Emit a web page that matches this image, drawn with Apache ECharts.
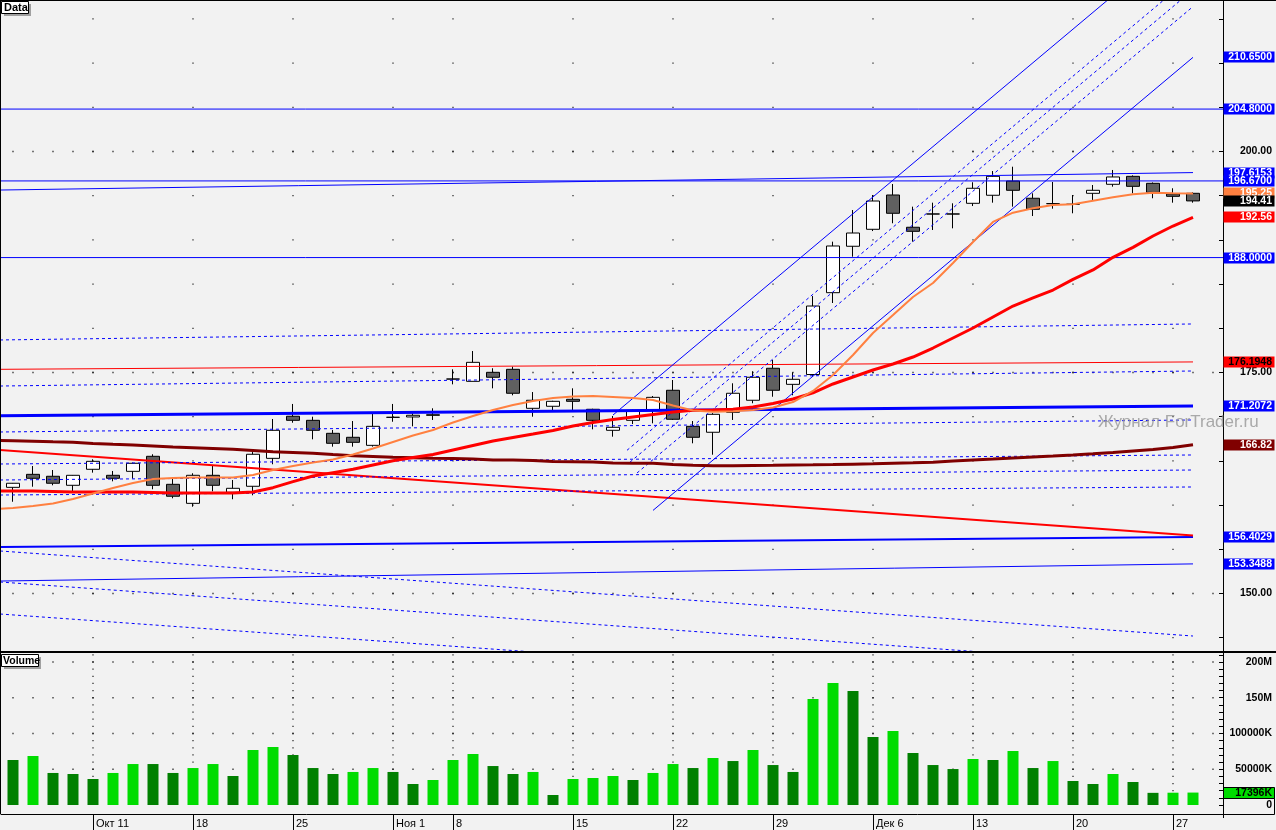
<!DOCTYPE html>
<html>
<head>
<meta charset="utf-8">
<script src="https://cdn.jsdelivr.net/npm/echarts@6.0.0/dist/echarts.min.js"></script>
<style>
html,body{margin:0;padding:0;background:#f2f2f2;overflow:hidden;}
#chart{width:1276px;height:830px;}
</style>
</head>
<body>
<div id="chart"></div>
<script>
// ---------------- data ----------------
const dateIndex  = [4, 9, 14, 19, 22, 28, 33, 38, 43, 48, 53, 58];
const dateLabels = ['Окт 11','18','25','Ноя 1','8','15','22','29','Дек 6','13','20','27'];

const opens = [162.01,163.48,163.26,162.24,164.05,163.37,163.82,165.52,162.35,160.20,
163.37,161.45,162.13,165.29,170.05,169.59,168.12,167.67,166.76,169.93,
169.97,170.22,174.26,174.00,175.02,175.36,170.95,171.18,171.97,170.84,
168.46,169.59,170.72,172.99,168.91,168.24,170.50,171.86,175.48,173.66,
174.77,184.03,189.28,191.20,195.08,191.43,192.93,192.93,194.14,195.05,
196.66,194.71,194.10,194.03,195.27,196.29,197.19,196.40,195.19,195.27];
const closes = [162.47,163.03,162.47,163.37,164.95,163.03,164.73,162.24,161.00,163.37,
162.24,161.90,165.75,168.46,169.59,168.46,166.99,167.10,168.91,169.93,
170.16,170.16,174.26,176.15,174.46,172.65,171.86,171.74,171.74,169.59,
168.80,170.72,172.19,169.71,167.67,170.27,172.65,174.46,172.99,174.23,
182.52,189.31,190.78,194.40,193.01,190.97,192.93,192.93,195.84,197.19,
195.61,193.46,194.10,194.03,195.61,197.12,196.06,195.38,194.93,194.41];
const lows = [160.38,162.08,162.24,161.40,163.67,162.69,162.99,161.79,160.77,159.82,
161.56,160.66,161.11,164.62,169.32,167.44,166.61,166.61,166.61,169.43,
168.91,169.63,173.66,174.00,173.21,172.42,170.00,170.68,170.76,168.57,
167.74,169.17,169.25,169.63,166.99,165.70,169.63,171.52,172.26,172.42,
174.50,182.86,188.10,191.00,191.88,189.80,191.12,191.31,193.83,194.21,
193.76,192.70,193.53,193.01,194.51,196.02,195.27,194.71,194.21,194.21];
const highs = [162.50,164.42,163.97,163.40,165.18,163.86,164.80,165.75,163.14,163.60,
164.54,162.84,166.00,169.74,171.44,170.00,168.50,169.51,170.38,171.44,
170.38,170.95,175.36,177.43,175.48,175.66,172.79,171.80,173.21,170.90,
170.08,170.80,172.34,174.15,169.51,170.40,173.78,175.14,176.41,175.02,
183.65,189.80,193.38,195.08,196.32,193.76,194.21,194.14,196.52,197.79,
198.28,195.27,196.55,195.08,196.21,197.91,197.30,196.50,195.84,195.38];

// volumes in thousands
const volumes = [62900,68500,44800,43400,36400,44800,57300,57300,44800,51700,
57300,40600,76900,81100,69900,51700,43400,46200,51700,46200,
29400,35000,62900,71300,54500,43400,46200,14000,36400,37800,
40600,35000,44800,57300,51700,65700,61500,76900,55900,46200,
148300,170600,159400,95100,103500,72700,55900,50300,64300,62900,
75500,51700,61500,33600,29400,43400,32200,17000,17200,17396];
const volUp = [0,1,0,0,0,1,1,0,0,1, 1,0,1,1,0,0,0,1,1,0, 0,1,1,1,0,0,1,0,1,1,
               1,0,1,1,0,1,0,1,0,0, 1,1,0,0,1,0,0,0,1,0, 1,0,1,0,0,1,0,0,1,1];

// moving averages, first value belongs to the bar before the first visible bar
const maFast = [159.55,159.67,159.90,160.18,160.69,161.31,161.93,162.50,162.95,163.07,163.12,
163.12,163.12,163.40,163.97,164.42,164.82,165.16,165.72,166.40,167.14,
167.87,168.50,169.34,170.08,170.76,171.32,171.78,172.12,172.29,172.34,
172.23,172.12,171.89,171.27,170.70,170.57,170.61,170.76,171.04,171.66,
172.91,174.72,176.98,179.47,181.50,183.54,185.12,187.39,189.76,192.03,
193.08,193.57,193.95,194.03,194.43,194.82,195.16,195.34,195.27,195.25];
const maMid = [161.59,161.59,161.59,161.54,161.48,161.48,161.48,161.48,161.43,161.37,161.37,
161.37,161.37,161.48,161.97,162.65,163.29,163.67,164.05,164.54,165.02,
165.38,165.72,166.23,166.74,167.25,167.65,168.04,168.44,168.95,169.34,
169.68,169.97,170.25,170.53,170.72,170.76,170.84,171.10,171.50,172.00,
172.70,173.70,174.49,175.28,175.96,176.75,177.77,178.90,180.03,181.28,
182.52,183.43,184.33,185.54,186.60,188.03,189.16,190.44,191.57,192.56];
const maSlow = [167.31,167.29,167.23,167.17,167.12,166.97,166.88,166.80,166.69,166.57,166.49,
166.40,166.31,166.18,166.04,165.95,165.86,165.72,165.59,165.50,165.41,
165.35,165.29,165.27,165.21,165.10,165.10,165.05,164.93,164.91,164.88,
164.76,164.73,164.73,164.59,164.50,164.46,164.46,164.48,164.50,164.54,
164.56,164.59,164.63,164.67,164.73,164.78,164.86,164.99,165.10,165.21,
165.33,165.44,165.55,165.67,165.80,165.95,166.12,166.29,166.52,166.82];

// drawn objects: [barIndex, price] end points
const hLine2048   = [[-1, 204.80], [61, 204.80]];
const hLine1880   = [[-1, 188.00], [61, 188.00]];
const hLine19667  = [[-1, 196.67], [61, 196.67]];
const line19761   = [[-0.65, 195.64], [59, 197.6153]];
const redLine1762 = [[-0.65, 175.36], [59, 176.1948]];
const blueThick1712 = [[-0.65, 170.11], [59, 171.2072]];
const blueThick1564 = [[-0.65, 155.26], [59, 156.4029]];
const blueThin1533  = [[-0.65, 151.41], [59, 153.3488]];
const redDecline  = [[-0.65, 166.23], [59, 156.56]];
const dotRise = [
  [[-0.65, 178.68], [59, 180.49]],
  [[-0.65, 173.47], [59, 175.17]],
  [[-0.65, 168.27], [59, 169.63]],
  [[-0.65, 164.65], [59, 165.67]],
  [[-0.65, 162.84], [59, 163.97]],
  [[-0.65, 161.14], [59, 162.05]]
];
const dotDecline = [
  [[-0.65, 154.81], [59, 145.19]],
  [[-0.65, 151.30], [59, 141.68]],
  [[-0.65, 147.68], [59, 138.07]]
];
const chanUpper = [[30, 170.19], [59, 225.23]];
const chanLower = [[32, 159.40], [59, 210.65]];
const chanDash = [
  [[30.7, 166.20], [59, 219.91]],
  [[30.85, 164.86], [59, 218.29]],
  [[31.2, 163.63], [59, 216.39]]
];

// price tags on the right scale
const tagValues = [210.65, 204.80, 197.6153, 196.67, 188.00, 176.1948, 171.2072, 166.82, 156.4029, 153.3488, 195.25, 192.56, 194.41];
const tagTexts  = ['210.6500','204.8000','197.6153','196.6700','188.0000','176.1948','171.2072','166.82','156.4029','153.3488','195.25','192.56','194.41'];
const priceTicks  = [145,150,155,160,165,170,175,180,185,190,195,200,205,210,215];
const priceLabels = [150,175,200];
const volTicks = [0,10000,20000,30000,40000,50000,60000,70000,80000,90000,100000,110000,120000,130000,140000,150000,160000,170000,180000,190000,200000,210000];
const volLabels = [0,50000,100000,150000,200000];
const lastVolume = 17396;

// ---------------- chart ----------------
const chart = echarts.init(document.getElementById('chart'), null, {renderer: 'canvas'});
const N = opens.length;
const BLUE = '#0000ff';
const FONT = '"Liberation Sans", Arial, sans-serif';

const candleData = opens.map((o, i) => [i, o, closes[i], lows[i], highs[i]]);
const volData = volumes.map((v, i) => ({value: [i, v], itemStyle: {color: volUp[i] ? '#00dc00' : '#008000'}}));
const maData = arr => arr.map((v, k) => [k - 1, v]);

// grid dots
const mainDots = [];
priceLabels.forEach(l => { for (let i = 0; i <= N; i++) mainDots.push([i, l]); });
dateIndex.forEach(d => priceTicks.forEach(l => mainDots.push([d, l])));
const volDots = [];
volLabels.filter(v => v > 0).forEach(l => { for (let i = 0; i <= N; i++) volDots.push([i, l]); });
dateIndex.forEach(d => volTicks.filter(v => v > 0).forEach(l => volDots.push([d, l])));

function seg(data, color, width, type, z) {
  return {type: 'line', xAxisIndex: 0, yAxisIndex: 0, data: data, showSymbol: false, symbol: 'none',
    silent: true, clip: true, z: z || 4, lineStyle: {color: color, width: width, type: type || 'solid'}};
}

const series = [
  {type: 'scatter', xAxisIndex: 0, yAxisIndex: 0, data: mainDots, symbol: 'rect', symbolSize: 1.3,
   itemStyle: {color: '#000'}, silent: true, z: 1},
  {type: 'scatter', xAxisIndex: 1, yAxisIndex: 1, data: volDots, symbol: 'rect', symbolSize: 1.3,
   itemStyle: {color: '#000'}, silent: true, z: 1},
  {type: 'candlestick', xAxisIndex: 0, yAxisIndex: 0, data: candleData, encode: {x: 0, y: [1, 2, 3, 4]},
   barWidth: 13, silent: true, z: 3,
   itemStyle: {color: '#ffffff', color0: '#606060', borderColor: '#000', borderColor0: '#000',
               borderColorDoji: '#000', borderWidth: 1}},
  {type: 'bar', xAxisIndex: 1, yAxisIndex: 1, data: volData, barWidth: 11, silent: true, z: 3},
  seg(hLine2048, BLUE, 1),
  seg(hLine1880, BLUE, 1),
  seg(hLine19667, BLUE, 1),
  seg(line19761, BLUE, 1),
  seg(redLine1762, '#ff0000', 1),
  seg(blueThick1712, BLUE, 3),
  seg(blueThick1564, BLUE, 2),
  seg(blueThin1533, BLUE, 1),
  seg(redDecline, '#ff0000', 2),
  seg(chanUpper, BLUE, 1),
  seg(chanLower, BLUE, 1)
];
dotRise.forEach(d => series.push(seg(d, BLUE, 1, [3, 3])));
dotDecline.forEach(d => series.push(seg(d, BLUE, 1, [3, 3])));
chanDash.forEach(d => series.push(seg(d, BLUE, 1, [3, 3])));
series.push(seg(maData(maSlow), '#800000', 3, 'solid', 5));
series.push(seg(maData(maMid), '#ff0000', 3, 'solid', 5));
series.push(seg(maData(maFast), '#ff8040', 2, 'solid', 5));

const option = {
  animation: false,
  backgroundColor: '#f2f2f2',
  grid: [
    {left: 1, top: 0, width: 1222, height: 651, show: false},
    {left: 1, top: 653, width: 1222, height: 161, show: false}
  ],
  xAxis: [
    {type: 'value', gridIndex: 0, min: -0.6, max: 60.5, show: false},
    {type: 'value', gridIndex: 1, min: -0.6, max: 60.5,
     axisLine: {show: true, onZero: false, lineStyle: {color: '#000', width: 1}},
     axisTick: {show: true, customValues: dateIndex, length: 16, inside: false, lineStyle: {color: '#000'}},
     axisLabel: {show: true, customValues: dateIndex, align: 'left', margin: 4, padding: [0, 0, 0, 3],
       color: '#000', fontSize: 11, fontFamily: FONT,
       formatter: v => dateLabels[dateIndex.indexOf(Math.round(v))] || ''},
     splitLine: {show: false}}
  ],
  yAxis: [
    {type: 'value', gridIndex: 0, position: 'right', min: 143.495, max: 217.138, scale: true,
     axisLine: {show: true, onZero: false, lineStyle: {color: '#000', width: 1}},
     axisTick: {show: true, customValues: priceTicks, inside: true, length: 4, lineStyle: {color: '#000'}},
     axisLabel: {show: true, customValues: priceLabels, align: 'right', margin: 49, color: '#000',
       fontWeight: 'bold', fontSize: 10.5, fontFamily: FONT, formatter: v => v.toFixed(2)},
     splitLine: {show: false}},
    {type: 'value', gridIndex: 1, position: 'right', min: -12587, max: 212587,
     axisLine: {show: true, onZero: false, lineStyle: {color: '#000', width: 1}},
     axisTick: {show: true, customValues: volTicks, inside: true, length: 4, lineStyle: {color: '#000'}},
     axisLabel: {show: true, customValues: volLabels, align: 'right', margin: 49, color: '#000',
       fontWeight: 'bold', fontSize: 10.5, fontFamily: FONT,
       formatter: v => v === 0 ? '0' : (v >= 150000 ? (v / 1000) + 'M' : v + 'K')},
     splitLine: {show: false}}
  ],
  series: series
};
chart.setOption(option);

// ---------- decorations & price tags ----------
const tagBg = [BLUE, BLUE, BLUE, BLUE, BLUE, '#ff0000', BLUE, '#800000', BLUE, BLUE, '#ff8040', '#ff0000', '#000000'];
const tagFg = ['#fff','#fff','#fff','#fff','#fff','#000','#fff','#fff','#fff','#fff','#fff','#fff','#fff'];
const g = [];
function box(x, y, w, h, fill, stroke, z) {
  g.push({type: 'rect', shape: {x: x, y: y, width: w, height: h}, style: {fill: fill, stroke: stroke || null, lineWidth: 1}, z: z || 100, silent: true});
}
function txt(text, x, y, font, fill, align, z) {
  g.push({type: 'text', style: {text: text, x: x, y: y, font: font, fill: fill, align: align || 'left', verticalAlign: 'middle'}, z: z || 101, silent: true});
}
tagValues.forEach((v, k) => {
  const y = chart.convertToPixel({yAxisIndex: 0}, v);
  box(1223.5, Math.round(y) - 5.5, 51, 11, tagBg[k], null, 100 + k * 2);
  txt(tagTexts[k], 1272, Math.round(y) + 0.5, 'bold 10.5px ' + FONT, tagFg[k], 'right', 101 + k * 2);
});
// volume tag
const vy = chart.convertToPixel({yAxisIndex: 1}, lastVolume);
box(1223.5, Math.round(vy) - 5.5, 51, 11, '#00dc00', '#000', 130);
txt(lastVolume + 'K', 1272, Math.round(vy) + 0.5, 'bold 10.5px ' + FONT, '#000', 'right', 131);
box(1223.5, Math.round(vy) + 5.5, 51, 16, null, '#000', 130);

// frame lines
box(0, 0, 1276, 1, '#000', null, 90);
box(0, 0, 1, 814, '#000', null, 90);
box(0, 651, 1276, 2, '#000', null, 90);
box(1223, 0, 1, 818, '#000', null, 90);
// panel titles
box(4, 4, 27, 12, '#a0a0a0', null, 95);
box(1.5, 1.5, 27, 12, '#ffffff', '#000', 96);
txt('Data', 4, 8, 'bold 11px ' + FONT, '#000', 'left', 97);
box(4, 657, 37, 12, '#a0a0a0', null, 95);
box(1.5, 654.5, 37, 12, '#ffffff', '#000', 96);
txt('Volume', 3, 661, 'bold 10.5px ' + FONT, '#000', 'left', 97);
// watermark
txt('Журнал ForTrader.ru', 1098, 422, '17px ' + FONT, 'rgba(150,150,150,0.8)', 'left', 98);

chart.setOption({graphic: g});
</script>
</body>
</html>
